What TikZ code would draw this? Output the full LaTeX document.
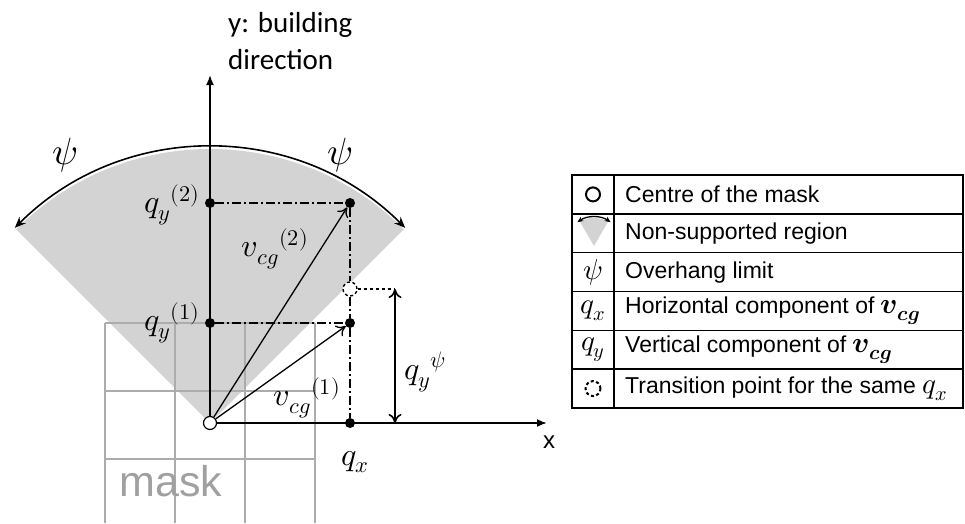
\documentclass[tikz,border=0pt]{standalone}
\usepackage{amsmath}
\usepackage{fontspec}
\usepackage{unicode-math}
\setmainfont{Liberation Sans}
\setmathfont{Latin Modern Math}
\newfontfamily\calibri{Carlito}
\definecolor{regiongray}{RGB}{211,211,211}
\definecolor{maskgray}{RGB}{172,172,172}
\definecolor{masktext}{RGB}{160,160,160}
\newcommand{\legmath}[1]{{\fontsize{29}{25}\selectfont$#1$}}
\usetikzlibrary{arrows.meta}

\begin{document}
\begin{tikzpicture}[x=1pt,y=1pt,
    fixpt/.style={circle,fill=black,inner sep=0pt,minimum size=10pt},
    origin/.style={circle,draw,fill=white,line width=1.2pt,inner sep=0pt,minimum size=13pt},
    vec/.style={-{To[length=9pt,width=13pt]},line width=1.3pt},
    guide/.style={line width=1.4pt,dash pattern=on 9pt off 3pt on 2pt off 3pt},
    axis/.style={line width=1.8pt,-{Latex[length=10pt,width=8pt]}},
    lbl/.style={font=\fontsize{32}{36}\selectfont},
    legtxt/.style={anchor=west,inner sep=0pt,font=\fontsize{23}{25}\selectfont},
    legline/.style={line width=1.5pt}]
  \useasboundingbox (-210,-100) rectangle (755,423);

  % non-supported region and mask
  \fill[regiongray] (0,0) -- (45:274) arc[start angle=45,end angle=135,radius=274] -- cycle;
  \foreach \gx in {-105,-35,35,105}
    \draw[maskgray,line width=1.5pt] (\gx,-100) -- (\gx,100);
  \foreach \gy in {100,32,-36}
    \draw[maskgray,line width=1.5pt] (-105,\gy) -- (105,\gy);
  \node[masktext,anchor=base,font=\fontsize{43}{43}\selectfont] (masklbl) at (-39,-73) {mask};
  \draw[line width=1.6pt,{Stealth[length=11pt,width=9pt]}-{Stealth[length=11pt,width=9pt]}]
    (45:276) arc[start angle=45,end angle=135,radius=276];

  % axes
  \node[origin] (O) at (0,0) {};
  \coordinate (ytip) at (0,348);
  \coordinate (xtip) at (337,0);
  \draw[axis] (O) -- (ytip);
  \draw[axis] (O) -- (xtip);

  % points
  \node[fixpt] (qy2) at (0,220) {};
  \node[fixpt] (qy1) at (0,100) {};
  \node[fixpt] (v2) at (140,220) {};
  \node[fixpt] (v1) at (140,100) {};
  \node[fixpt] (qx) at (140,0) {};
  \node[circle,draw,fill=white,line width=1.4pt,dash pattern=on 3pt off 2.5pt,inner sep=0pt,minimum size=14pt] (tp) at (140,134) {};
  \coordinate (qtop) at (185,134);
  \coordinate (qbot) at (185,0);

  \draw[guide] (qy2) -- (v2);
  \draw[guide] (qy1) -- (v1);
  \draw[guide] (v2) -- (tp);
  \draw[guide] (tp) -- (v1);
  \draw[guide] (v1) -- (qx);
  \draw[vec] (O) -- (v2);
  \draw[vec] (O) -- (v1);
  \draw[line width=1.4pt,dashed] (tp) -- (qtop);
  \draw[line width=1.6pt,{To[length=9pt,width=13pt]}-{To[length=9pt,width=13pt]}] (qtop) -- (qbot);

  % labels
  \node[font=\fontsize{38}{40}\selectfont] (psil) at (-145,268) {$\psi$};
  \node[font=\fontsize{38}{40}\selectfont] (psir) at (130,268) {$\psi$};
  \node[lbl] (lqy2) at (-38,218) {${q_y}^{(2)}$};
  \node[lbl] (lqy1) at (-38,100) {${q_y}^{(1)}$};
  \node[lbl] (lv2) at (65,174) {${v_{cg}}^{(2)}$};
  \node[lbl] (lv1) at (97,25) {${v_{cg}}^{(1)}$};
  \node[lbl] (lqx) at (145,-39) {$q_x$};
  \node[lbl] (lqpsi) at (215,51) {${q_y}^{\psi}$};
  \node[font=\fontsize{24}{24}\selectfont] (xlbl) at (339,-19) {x};
  \node[anchor=north west,inner sep=0pt,align=left,font=\calibri\fontsize{29}{37}\selectfont] (ylbl) at (18,411) {y: building\\direction};

  % legend
  \draw[legline] (362,15) rectangle (753,248);
  \foreach \r in {1,...,5}
    \draw[legline] (362,{248-\r*38.83}) -- (753,{248-\r*38.83});
  \draw[legline] (404,15) -- (404,248);
  \foreach \txt [count=\i] in {{Centre of the mask},{Non-supported region},{Overhang limit},
      {Horizontal component of \legmath{\symbfit{v}_{\symbfit{cg}}}},{Vertical component of \legmath{\symbfit{v}_{\symbfit{cg}}}},
      {Transition point for the same \legmath{q_x}}}
    \node[legtxt] (leg\i) at (415,{248-(\i-0.5)*38.83}) {\txt};
  \node[circle,draw,line width=2pt,inner sep=0pt,minimum size=14pt] (ico1) at (383,228.6) {};
  \fill[regiongray] (384,177) -- ++(60:28) arc[start angle=60,end angle=120,radius=28] -- cycle;
  \draw[line width=1.3pt,{Stealth[length=6pt,width=5pt]}-{Stealth[length=6pt,width=5pt]}]
    (384,177) ++(55:29) arc[start angle=55,end angle=125,radius=29];
  \node (ico3) at (383,150.9) {\legmath{\psi}};
  \node (ico4) at (383,112.1) {\legmath{q_x}};
  \node (ico5) at (383,73.3) {\legmath{q_y}};
  \node[circle,draw,line width=2pt,dash pattern=on 3pt off 2.5pt,inner sep=0pt,minimum size=15pt] (ico6) at (383,34.4) {};
\end{tikzpicture}
\end{document}
